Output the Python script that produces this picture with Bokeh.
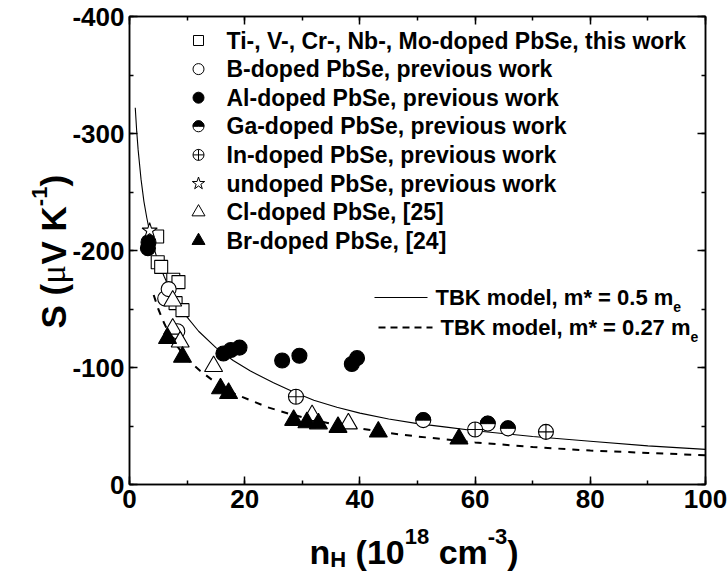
import math
from bokeh.plotting import figure
from bokeh.models import Range1d, LinearAxis, SingleIntervalTicker, Label, PrintfTickFormatter
from bokeh.core.properties import value
from bokeh.embed import file_html
from bokeh.resources import INLINE

# ---- Seebeck coefficient vs Hall carrier concentration (n-type PbSe) ----
# n_H in 1e18 cm^-3, S in uV/K
tm_n = [4.8, 4.9, 5.5, 7.6, 8.5, 8.0, 9.2]
tm_s = [-212, -190, -186, -175, -173, -155, -149]

b_n = [6.2, 6.8, 8.3]
b_s = [-159, -167, -131]

al_n = [3.2, 3.3, 16.3, 17.6, 19.1, 26.5, 29.5, 38.6, 39.5]
al_s = [-202, -207, -112, -115, -117, -106, -110, -103, -108]

ga_n = [51.0, 62.2, 65.7]
ga_s = [-55, -52, -48]

in_n = [28.9, 60.0, 72.3]
in_s = [-75, -47, -45]

un_n = [3.5]
un_s = [-217]

cl_n = [7.5, 7.5, 8.8, 14.6, 31.7, 38.0]
cl_s = [-157, -133, -122, -101, -59, -52]

br_n = [6.6, 9.2, 15.8, 17.2, 28.5, 30.8, 32.8, 36.2, 43.2, 57.2]
br_s = [-125, -109, -82, -78, -55, -53, -52, -49, -45, -39]

# TBK model curves
tbk05_n = [1.0, 1.25, 1.5, 2.0, 2.5, 3.0, 3.5, 4.0, 5.0, 6.0, 7.0, 8.0, 10, 12, 15,
           18, 21, 25, 28.5, 32, 36, 40, 45, 50, 55, 60, 70, 80, 90, 100]
tbk05_s = [-322, -302, -286, -261, -242, -228, -216, -206, -190, -178, -167, -158, -143, -131, -117,
           -106, -97, -87, -79, -72, -66, -61, -56, -52, -49, -46, -41, -37, -33, -30]

tbk027_n = [4.2, 5, 6, 7, 8, 10, 12.3, 15, 18, 21, 24, 28, 32, 36, 40, 45, 50, 60, 70, 80, 90, 100]
tbk027_s = [-162, -150, -138, -128, -120, -107, -97, -87, -78, -72, -66, -60, -55, -51, -48, -44,
            -41, -36, -32, -29, -27, -25]

series_names = [
    "Ti-, V-, Cr-, Nb-, Mo-doped PbSe, this work",
    "B-doped PbSe, previous work",
    "Al-doped PbSe, previous work",
    "Ga-doped PbSe, previous work",
    "In-doped PbSe, previous work",
    "undoped PbSe, previous work",
    "Cl-doped PbSe, [25]",
    "Br-doped PbSe, [24]",
]

x_ticks_interval = 20
y_ticks_interval = 100

# ---- layout (canvas pixels) ----
W, H = 728, 571
FL, FR, FT, FB = 129, 705, 16, 484
FONT = "Liberation Sans"

# Helvetica-Bold advance widths (per 1000 em) for placing composed text
HB = {' ': 278, '(': 333, ')': 333, '*': 389, ',': 278, '-': 333, '.': 278, '=': 584,
      '[': 333, ']': 333, 'A': 722, 'B': 722, 'C': 722, 'D': 722, 'E': 667, 'F': 611,
      'G': 778, 'H': 722, 'I': 278, 'K': 722, 'L': 611, 'M': 833, 'N': 722, 'O': 778,
      'P': 667, 'R': 722, 'S': 667, 'T': 611, 'V': 667, 'W': 944, 'a': 556, 'b': 611,
      'c': 556, 'd': 611, 'e': 556, 'f': 333, 'g': 611, 'h': 611, 'i': 278, 'k': 556,
      'l': 278, 'm': 889, 'n': 611, 'o': 611, 'p': 611, 'r': 389, 's': 556, 't': 333,
      'u': 611, 'v': 556, 'w': 778, 'x': 556, 'y': 556}
for d in "0123456789":
    HB[d] = 556


def text_w(s, px):
    return sum(HB.get(c, 556) for c in s) / 1000.0 * px


p = figure(width=W, height=H, output_backend="svg", toolbar_location=None,
           x_range=Range1d(0, 100), y_range=Range1d(0, -400),
           min_border_left=FL, min_border_right=W - FR,
           min_border_top=FT, min_border_bottom=H - FB)
p.background_fill_color = "white"
p.border_fill_color = "white"
p.grid.visible = False
p.outline_line_color = "black"
p.outline_line_width = 1.5

# pixel-space ranges for the legend and titles
p.extra_x_ranges = {"px": Range1d(FL, FR)}
p.extra_y_ranges = {"py": Range1d(FB, FT)}
pk = dict(x_range_name="px", y_range_name="py")


def style_axis(ax, interval, labels=True):
    ax.ticker = SingleIntervalTicker(interval=interval, num_minor_ticks=2)
    ax.formatter = PrintfTickFormatter(format="%d")
    ax.axis_line_color = "black"
    ax.axis_line_width = 1.5
    ax.major_tick_in = 8
    ax.major_tick_out = 0
    ax.minor_tick_in = 4
    ax.minor_tick_out = 0
    ax.major_tick_line_width = 1.5
    ax.minor_tick_line_width = 1.5
    ax.major_label_text_font = FONT
    ax.major_label_text_font_style = "bold"
    ax.major_label_text_color = "black"
    if labels:
        ax.major_label_text_font_size = "26px"
        ax.major_label_standoff = 5
    else:
        ax.major_label_text_font_size = "1px"
        ax.major_label_text_alpha = 0
        ax.major_label_standoff = 0


style_axis(p.xaxis[0], x_ticks_interval)
style_axis(p.yaxis[0], y_ticks_interval)
top_ax = LinearAxis()
right_ax = LinearAxis()
style_axis(top_ax, x_ticks_interval, labels=False)
style_axis(right_ax, y_ticks_interval, labels=False)
p.add_layout(top_ax, "above")
p.add_layout(right_ax, "right")

# ---- model curves ----
p.line(tbk05_n, tbk05_s, line_color="black", line_width=1.1)
p.line(tbk027_n, tbk027_s, line_color="black", line_width=2, line_dash="7 7")

# ---- data markers ----
open_kw = dict(fill_color="white", line_color="black", line_width=1.1)
solid_kw = dict(fill_color="black", line_color="black", line_width=1.1)

p.scatter(tm_n, tm_s, marker="square", size=13, **open_kw)
p.scatter(b_n, b_s, marker="circle", size=15, **open_kw)
p.scatter(al_n, al_s, marker="circle", size=15, **solid_kw)
p.scatter(ga_n, ga_s, marker="circle", size=15, **open_kw)
p.wedge(ga_n, ga_s, radius=7.5, radius_units="screen", start_angle=0, end_angle=math.pi,
        direction="anticlock", fill_color="black", line_color="black", line_width=1)
p.scatter(in_n, in_s, marker="circle_cross", size=15, **open_kw)
p.scatter(un_n, un_s, marker="star", size=16, **open_kw)
p.scatter(cl_n, cl_s, marker="triangle", size=18, **open_kw)
p.scatter(br_n, br_s, marker="triangle", size=18, **solid_kw)

# ---- legend (hand-built, pixel space) ----
LEG_X, LEG_TX, LEG_Y0, LEG_DY = 198, 226, 40, 28.6
LEG_FS = "23px"
leg_styles = [
    ("square", 10, "white"),
    ("circle", 11, "white"),
    ("circle", 11, "black"),
    ("half", 11, None),
    ("circle_cross", 11, "white"),
    ("star", 13, "white"),
    ("triangle", 13, "white"),
    ("triangle", 13, "black"),
]
for i, (name, (mk, sz, fc)) in enumerate(zip(series_names, leg_styles)):
    yy = LEG_Y0 + i * LEG_DY
    if mk == "half":
        p.scatter([LEG_X], [yy], marker="circle", size=sz, fill_color="white",
                  line_color="black", line_width=1, **pk)
        p.wedge([LEG_X], [yy], radius=sz / 2, radius_units="screen", start_angle=0,
                end_angle=math.pi, direction="anticlock", fill_color="black",
                line_color="black", line_width=1, **pk)
    else:
        p.scatter([LEG_X], [yy], marker=mk, size=sz, fill_color=fc, line_color="black",
                  line_width=1, **pk)
    p.add_layout(Label(x=LEG_TX, y=yy, text=name, text_font=FONT, text_font_style="bold",
                       text_font_size=LEG_FS, text_baseline="middle", text_align="left",
                       text_color="black", **pk))

# model legend
TBK_FS = 22
tbk_rows = [("TBK model, m* = 0.5 m", 297, 374, 427, None, 1.1),
            ("TBK model, m* = 0.27 m", 327, 378, 432, "7 5", 2)]
for txt, yy, lx0, lx1, dash, lw in tbk_rows:
    kw = dict(line_color="black", line_width=lw)
    if dash:
        kw["line_dash"] = dash
    p.line([lx0, lx1], [yy, yy], **kw, **pk)
    tx = lx1 + 8
    p.add_layout(Label(x=tx, y=yy, text=txt, text_font=FONT, text_font_style="bold",
                       text_font_size=f"{TBK_FS}px", text_baseline="middle",
                       text_align="left", text_color="black", **pk))
    p.add_layout(Label(x=tx + text_w(txt, TBK_FS), y=yy + 9, text="e", text_font=FONT,
                       text_font_style="bold", text_font_size="14px",
                       text_baseline="middle", text_align="left", text_color="black", **pk))

# ---- axis titles composed from pieces (text glyphs drawn above the frame clip) ----
SF = 22


def title_piece(x, y, txt, fs, font=FONT, style="bold", angle=0.0):
    return p.text(x=[x], y=[y], text=[txt], text_font=value(font), text_font_style=style,
                  text_font_size=f"{fs}px", text_baseline="alphabetic", text_align="left",
                  angle=angle, text_color="black", level="overlay", **pk)


# x title: n_H (10^18 cm^-3)   pieces: (text, size, baseline shift, gap before)
XF = 34
xt_x, xt_base = 309, 551
x_pieces = [("n", XF, 0, 0), ("H", SF, 8, 0), ("(10", XF, 0, 0.278 * XF),
            ("18", SF, -15, 0), ("cm", XF, 0, 0.278 * XF), ("-3", SF, -15, 0), (")", XF, 0, 0)]
cx = xt_x
for txt, fs, dy, gap in x_pieces:
    cx += gap
    title_piece(cx, xt_base + dy, txt, fs)
    cx += text_w(txt, fs)

# y title: S (uV K^-1), rotated to read upwards
YF = 35
yt_base, yt_y = 53, 328
y_pieces = [("S", YF, 0, 0, FONT, "bold", None), ("(", YF, 0, 0.278 * YF, FONT, "bold", None),
            ("\u03bc", YF, 0, 0, "Liberation Serif", "normal", 0.55),
            ("V", YF, 0, 0, FONT, "bold", None), ("K", YF, 0, 0.278 * YF, FONT, "bold", None),
            ("-1", SF, -14, 0, FONT, "bold", None), (")", YF, 0, 0, FONT, "bold", None)]
cy = yt_y
for txt, fs, dx, gap, fnt, st, wfix in y_pieces:
    cy -= gap
    title_piece(yt_base + dx, cy, txt, fs, font=fnt, style=st, angle=math.pi / 2)
    cy -= (wfix * fs) if wfix else text_w(txt, fs)

open("out.html", "w").write(file_html(p, INLINE))
